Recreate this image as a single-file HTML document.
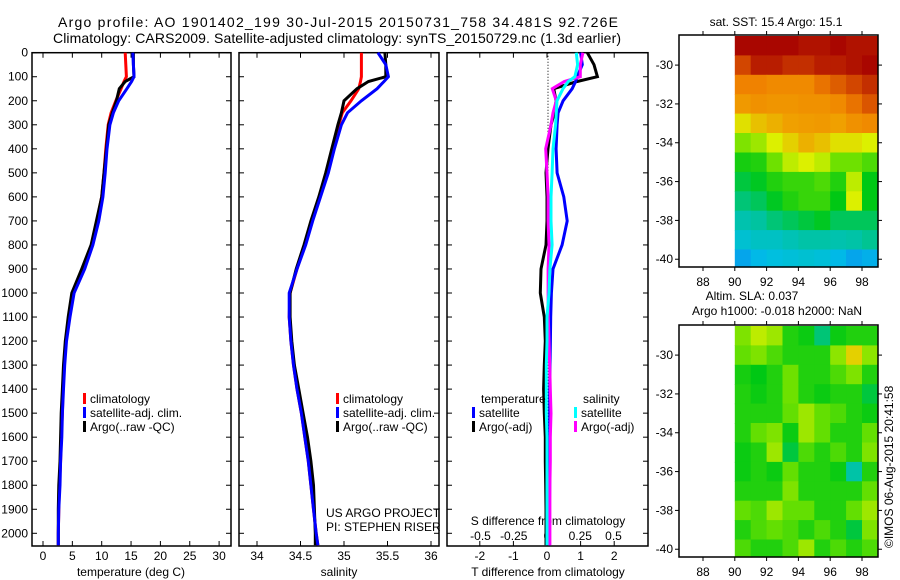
<!DOCTYPE html>
<html><head><meta charset="utf-8">
<style>
html,body{margin:0;padding:0;background:#fff;}
svg{display:block;font-family:"Liberation Sans",Arial,sans-serif;}
text{fill:#000;}
</style></head>
<body>
<svg id="fig" width="900" height="580" viewBox="0 0 900 580" xmlns="http://www.w3.org/2000/svg">
<text x="58" y="27" font-size="14" textLength="560">Argo profile: AO 1901402_199 30-Jul-2015 20150731_758 34.481S 92.726E</text>
<text x="53" y="43" font-size="14" textLength="568">Climatology: CARS2009. Satellite-adjusted climatology: synTS_20150729.nc (1.3d earlier)</text>
<g id="g1"></g>
<g id="g2"></g>
<g id="g3"></g>
<g id="g4"></g>
<g id="g5"></g>
<text transform="translate(893,548) rotate(-90)" font-size="12">©IMOS 06-Aug-2015 20:41:58</text>
</svg>
<script>
// ---- profile data ----
const depths = [0,50,100,120,150,200,250,300,400,500,600,700,800,900,1000,1100,1200,1300,1400,1500,1600,1700,1800,1900,2000,2050];
const tempClim = [14.0,14.1,14.2,13.8,13.3,12.4,11.6,11.1,10.7,10.4,10.0,9.2,8.3,6.8,5.1,4.4,3.9,3.6,3.4,3.3,3.1,3.0,2.8,2.7,2.6,2.6];
const tempSat  = [15.3,15.4,15.5,15.1,14.3,12.9,12.0,11.4,10.9,10.6,10.2,9.5,8.5,7.1,5.3,4.6,4.0,3.7,3.5,3.3,3.2,3.0,2.9,2.7,2.6,2.6];
const tempArgo = [15.4,15.4,15.5,14.0,13.0,12.5,11.8,11.2,10.8,10.4,10.0,9.1,8.2,6.6,4.9,4.3,3.8,3.5,3.3,3.1,3.0,2.9,2.7,2.6,2.6,2.6];
const salClim = [35.20,35.20,35.20,35.19,35.17,35.08,34.98,34.94,34.87,34.80,34.72,34.63,34.55,34.46,34.38,34.37,34.39,34.42,34.46,34.51,34.55,34.59,34.62,34.65,34.68,34.70];
const salSat  = [35.39,35.48,35.51,35.46,35.38,35.20,35.04,34.97,34.89,34.82,34.73,34.64,34.56,34.46,34.37,34.37,34.39,34.42,34.46,34.51,34.55,34.59,34.62,34.65,34.68,34.70];
const salArgo = [35.47,35.48,35.48,35.28,35.15,35.00,34.97,34.93,34.86,34.79,34.71,34.62,34.54,34.45,34.38,34.38,34.40,34.43,34.48,34.53,34.58,34.62,34.65,34.66,34.67,34.67];
const dTsat  = [1.0,1.05,0.9,0.85,0.75,0.48,0.33,0.30,0.27,0.30,0.50,0.60,0.45,0.18,0.13,0.11,0.10,0.09,0.08,0.08,0.08,0.08,0.08,0.07,0.07,0.07];
const dTargo = [1.2,1.4,1.5,0.9,0.2,0.27,0.22,0.12,0.03,-0.03,0.0,0.0,-0.03,-0.18,-0.2,-0.08,-0.05,-0.08,-0.1,-0.08,-0.05,-0.05,-0.04,-0.03,-0.03,-0.03];
const dSsat  = [0.22,0.23,0.21,0.16,0.12,0.075,0.07,0.065,0.045,0.038,0.03,0.03,0.038,0.022,0.015,0.0,0.0,-0.005,-0.005,-0.005,0.0,0.0,0.0,0.0,0.0,0.0];
const dSargo = [0.27,0.25,0.25,0.13,0.04,0.07,0.045,0.03,-0.01,0.0,0.008,0.008,0.015,0.008,0.008,0.01,0.015,0.02,0.025,0.03,0.025,0.025,0.022,0.022,0.022,0.022];
const depthTicks = [0,100,200,300,400,500,600,700,800,900,1000,1100,1200,1300,1400,1500,1600,1700,1800,1900,2000];
const tempTicks = [0,5,10,15,20,25,30];
const salTicks = [34,34.5,35,35.5,36];
const tdTicks = [-2,-1,0,1,2];
const sdTicks = [-0.5,-0.25,0,0.25,0.5];
const sdTickLabels = ['-0.5','-0.25','0','0.25','0.5'];
// ---- map data (rows lat -29..-40, cols lon 90..98), colour index 0..1 ----
const mapLats = [-29,-30,-31,-32,-33,-34,-35,-36,-37,-38,-39,-40];
const mapLons = [90,91,92,93,94,95,96,97,98];
const sstGrid = [
[0.99,0.99,0.99,0.99,0.97,0.97,0.99,0.97,0.97],
[0.88,0.95,0.95,0.92,0.92,0.95,0.95,0.97,0.99],
[0.80,0.80,0.78,0.78,0.78,0.82,0.85,0.88,0.92],
[0.74,0.76,0.75,0.75,0.76,0.76,0.78,0.82,0.86],
[0.64,0.68,0.70,0.72,0.73,0.74,0.72,0.76,0.78],
[0.56,0.58,0.62,0.66,0.70,0.68,0.64,0.64,0.62],
[0.47,0.48,0.55,0.60,0.62,0.60,0.55,0.55,0.52],
[0.42,0.44,0.48,0.50,0.50,0.52,0.48,0.60,0.45],
[0.38,0.40,0.44,0.48,0.50,0.50,0.45,0.62,0.45],
[0.33,0.35,0.38,0.40,0.42,0.44,0.40,0.40,0.40],
[0.28,0.30,0.30,0.32,0.34,0.34,0.33,0.34,0.36],
[0.20,0.24,0.26,0.27,0.28,0.27,0.24,0.20,0.22]];
const slaGrid = [
[0.56,0.60,0.58,0.48,0.46,0.38,0.46,0.48,0.48],
[0.54,0.56,0.52,0.48,0.48,0.48,0.57,0.66,0.57],
[0.47,0.45,0.48,0.55,0.48,0.48,0.52,0.56,0.48],
[0.48,0.46,0.48,0.55,0.48,0.46,0.48,0.48,0.42],
[0.48,0.48,0.48,0.54,0.58,0.54,0.52,0.48,0.46],
[0.48,0.54,0.56,0.46,0.58,0.54,0.48,0.48,0.54],
[0.46,0.48,0.58,0.42,0.52,0.48,0.52,0.48,0.56],
[0.46,0.48,0.46,0.54,0.48,0.48,0.46,0.34,0.48],
[0.48,0.48,0.48,0.56,0.48,0.48,0.48,0.48,0.54],
[0.54,0.52,0.58,0.54,0.54,0.48,0.48,0.54,0.58],
[0.48,0.52,0.54,0.52,0.48,0.52,0.48,0.42,0.56],
[0.52,0.48,0.48,0.52,0.58,0.48,0.52,0.48,0.52]];
const mapLatTicks = [-30,-32,-34,-36,-38,-40];
const mapLonTicks = [88,90,92,94,96,98];

const NS='http://www.w3.org/2000/svg';
function mk(parent,tag,attrs){const e=document.createElementNS(NS,tag);for(const k in attrs)e.setAttribute(k,attrs[k]);parent.appendChild(e);return e;}
function txt(parent,x,y,s,anchor,size){const t=mk(parent,'text',{x:x,y:y,'font-size':size||12,'text-anchor':anchor||'start'});t.textContent=s;return t;}

const yD = d => 52.7 + d*0.2403;
const P = [
 {g:'g1',L:32,R:231,x:v=>43+v*5.87},
 {g:'g2',L:239,R:439,x:v=>257+(v-34)*87},
 {g:'g3',L:447,R:648,x:v=>547+v*33.6, xs:v=>547+v*133}
];
const TOP=52.7, BOT=546;

function frame(g,p,showY,topTicks,botTicks){
  const r=mk(g,'rect',{x:p.L,y:TOP,width:p.R-p.L,height:BOT-TOP,fill:'none',stroke:'#000','stroke-width':1.5});
  
  
  depthTicks.forEach(d=>{
    mk(g,'line',{x1:p.L,x2:p.L+5,y1:yD(d),y2:yD(d),stroke:'#000'});
    mk(g,'line',{x1:p.R-5,x2:p.R,y1:yD(d),y2:yD(d),stroke:'#000'});
    if(showY){const t=txt(g,28,yD(d)+4,String(d),'end');
      
      }
  });
  topTicks.forEach(x=>{mk(g,'line',{x1:x,x2:x,y1:TOP,y2:TOP+5,stroke:'#000'});});
  botTicks.forEach(x=>{mk(g,'line',{x1:x,x2:x,y1:BOT-5,y2:BOT,stroke:'#000'});});
}
function curve(g,xf,vals,col,name){
  const pts=depths.map((d,i)=>xf(vals[i]).toFixed(1)+','+yD(d).toFixed(1)).join(' ');
  const pl=mk(g,'polyline',{points:pts,fill:'none',stroke:col,'stroke-width':3,'stroke-linejoin':'miter'});
  
  
}
function legendRow(g,x,y,col,label,name){
  mk(g,'rect',{x:x,y:y-10,width:3,height:11,fill:col});
  const t=txt(g,x+7,y,label);
  
  
}
// panel 1
(function(){const p=P[0],g=document.getElementById('g1');
 const xs=tempTicks.map(p.x);frame(g,p,true,xs,xs);
 tempTicks.forEach(v=>{const t=txt(g,p.x(v),560,String(v),'middle');
   
   });
 const tl=txt(g,131,576,'temperature (deg C)','middle');
 
 
 curve(g,p.x,tempClim,'#ff0000','temp-climatology-line');
 curve(g,p.x,tempArgo,'#000000','temp-argo-line');
 curve(g,p.x,tempSat,'#0000ff','temp-satellite-line');
 legendRow(g,83,403,'#ff0000','climatology','legend-climatology');
 legendRow(g,83,417,'#0000ff','satellite-adj. clim.','legend-satellite');
 legendRow(g,83,431,'#000000','Argo(..raw -QC)','legend-argo');
})();
// panel 2
(function(){const p=P[1],g=document.getElementById('g2');
 const xs=salTicks.map(p.x);frame(g,p,false,xs,xs);
 salTicks.forEach(v=>{const t=txt(g,p.x(v),560,String(v),'middle');
   
   });
 const tl=txt(g,339,576,'salinity','middle');
 
 
 curve(g,p.x,salClim,'#ff0000','sal-climatology-line');
 curve(g,p.x,salArgo,'#000000','sal-argo-line');
 curve(g,p.x,salSat,'#0000ff','sal-satellite-line');
 legendRow(g,336,403,'#ff0000','climatology','legend-climatology');
 legendRow(g,336,417,'#0000ff','satellite-adj. clim.','legend-satellite');
 legendRow(g,336,431,'#000000','Argo(..raw -QC)','legend-argo');
 const a=txt(g,326,517,'US ARGO PROJECT');
 const b=txt(g,326,531,'PI: STEPHEN RISER');
})();
// panel 3
(function(){const p=P[2],g=document.getElementById('g3');
 const xs=tdTicks.map(p.x);frame(g,p,false,xs,xs);
 mk(g,'line',{x1:548,x2:548,y1:TOP,y2:BOT,stroke:'#000','stroke-dasharray':'1,2'});
 tdTicks.forEach(v=>{const t=txt(g,p.x(v),560,String(v),'middle');
   
   });
 sdTicks.forEach((v,i)=>{const t=txt(g,p.xs(v),540,sdTickLabels[i],'middle');
   
   });
 const t1=txt(g,548,525,'S difference from climatology','middle');
 
 const t2=txt(g,548,576,'T difference from climatology','middle');
 
 curve(g,p.x,dTargo,'#000000','t-diff-argo-line');
 curve(g,p.x,dTsat,'#0000ff','t-diff-satellite-line');
 curve(g,p.xs,dSargo,'#ff00ff','s-diff-argo-line');
 curve(g,p.xs,dSsat,'#00ffff','s-diff-satellite-line');
 const a=txt(g,481,403,'temperature');
 const b=txt(g,583,403,'salinity');
 legendRow(g,472,417,'#0000ff','satellite','legend-t-satellite');
 legendRow(g,472,431,'#000000','Argo(-adj)','legend-t-argo');
 legendRow(g,574,417,'#00ffff','satellite','legend-s-satellite');
 legendRow(g,574,431,'#ff00ff','Argo(-adj)','legend-s-argo');
})();
// maps
const cstops=[[0,[0,48,200]],[0.15,[10,140,240]],[0.25,[0,190,230]],[0.35,[0,195,160]],[0.45,[0,200,20]],[0.55,[110,225,0]],[0.62,[220,240,0]],[0.72,[240,160,0]],[0.8,[240,130,0]],[0.88,[210,70,0]],[1,[165,0,0]]];
function cmap(v){for(let i=1;i<cstops.length;i++){if(v<=cstops[i][0]){const a=cstops[i-1],b=cstops[i],t=(v-a[0])/(b[0]-a[0]);
 const c=a[1].map((x,k)=>Math.round(x+(b[1][k]-x)*t));return 'rgb('+c.join(',')+')';}}return 'rgb(165,0,0)';}
function drawMap(id,top,bot,grid,titles,xlabY){
  const g=document.getElementById(id);const L=679,R=878;
  const lonX=lo=>703+(lo-88)*15.9;
  const latY=la=>top+(la-(-28.45))*(-(bot-top)/11.95);
  grid.forEach((row,ri)=>row.forEach((v,ci)=>{
    const lat=mapLats[ri],lon=mapLons[ci];
    const x0=Math.max(lonX(lon),lonX(90)),x1=Math.min(lonX(lon+1),R);
    const y0=Math.max(latY(lat+0.5),top),y1=Math.min(latY(lat-0.5),bot);
    const c=mk(g,'rect',{x:x0.toFixed(1),y:y0.toFixed(1),width:(x1-x0+0.6).toFixed(1),height:(y1-y0+0.6).toFixed(1),fill:cmap(v)});
    
    
  }));
  mk(g,'rect',{x:L,y:top,width:R-L,height:bot-top,fill:'none',stroke:'#000','stroke-width':1.5});
  mapLatTicks.forEach(la=>{const y=latY(la);
    mk(g,'line',{x1:L-4,x2:L,y1:y,y2:y,stroke:'#000'});mk(g,'line',{x1:R,x2:R+4,y1:y,y2:y,stroke:'#000'});
    const t=txt(g,673,y+4,String(la),'end');});
  mapLonTicks.forEach(lo=>{const x=lonX(lo);
    mk(g,'line',{x1:x,x2:x,y1:top-4,y2:top,stroke:'#000'});mk(g,'line',{x1:x,x2:x,y1:bot,y2:bot+4,stroke:'#000'});
    const t=txt(g,x,xlabY,String(lo),'middle');});
  titles.forEach(tt=>{const t=txt(g,tt[0],tt[1],tt[2],'middle');});
}
drawMap('g4',35,267,sstGrid,[[776,26,'sat. SST: 15.4 Argo: 15.1','sst-map-title']],286);
drawMap('g5',325,557,slaGrid,[[752,300,'Altim. SLA: 0.037','sla-map-title'],[777,315,'Argo h1000: -0.018 h2000: NaN','sla-argo-title']],576);
</script>
</body></html>
